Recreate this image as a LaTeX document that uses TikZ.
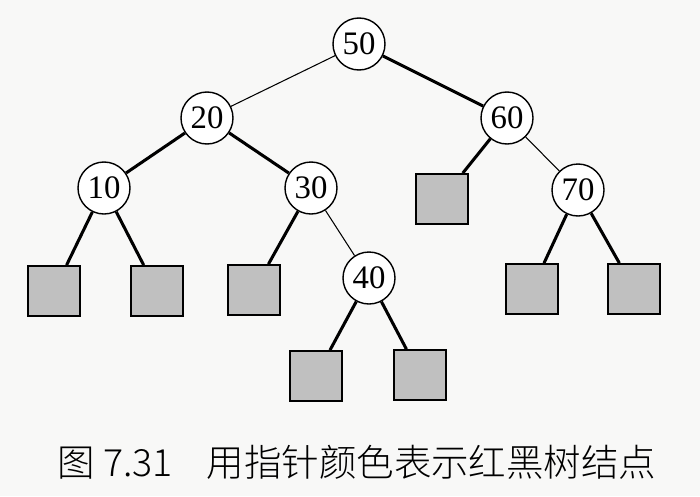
\documentclass[tikz,border=0pt]{standalone}
\usepackage{fontspec}
\setmainfont{Liberation Serif}
\newfontfamily\cjk{Noto Sans CJK SC Light}
\usetikzlibrary{positioning}
\usepackage{xcolor}
\definecolor{leafGray}{RGB}{192,192,192}
\definecolor{paperBg}{RGB}{248,248,247}

\begin{document}
\begin{tikzpicture}[
    x=0.03cm, y=-0.03cm,
    keynode/.style={circle, draw, line width=1.2pt, fill=white, minimum size=1.56cm, inner sep=0pt, font=\fontsize{28}{32}\selectfont},
    nilnode/.style={rectangle, draw, line width=1.5pt, fill=leafGray, minimum width=1.56cm, minimum height=1.5cm},
    blackptr/.style={line width=2.6pt},
    redptr/.style={line width=0.9pt}
]
\fill[paperBg] (0,0) rectangle (700,496);
\useasboundingbox (0,0) rectangle (700,496);

\node[keynode] (n50) at (359,44) {50};
\node[keynode] (n20) at (207,118) {20};
\node[keynode] (n60) at (507,118) {60};
\node[keynode] (n10) at (104,188) {10};
\node[keynode] (n30) at (311,188) {30};
\node[keynode] (n70) at (578,190) {70};
\node[keynode] (n40) at (369,278) {40};

\node[nilnode] (l10a) at (54,291) {};
\node[nilnode] (l10b) at (157,291) {};
\node[nilnode] (l30a) at (254,290) {};
\node[nilnode] (l60a) at (442,199) {};
\node[nilnode] (l40a) at (316,376) {};
\node[nilnode] (l40b) at (420,375) {};
\node[nilnode] (l70a) at (532,289) {};
\node[nilnode] (l70b) at (634,289) {};

\draw[redptr] (n50) -- (n20);
\draw[blackptr] (n50) -- (n60);
\draw[blackptr] (n20) -- (n10);
\draw[blackptr] (n20) -- (n30);
\draw[blackptr] (n60) -- (l60a);
\draw[redptr] (n60) -- (n70);
\draw[blackptr] (n10) -- (l10a);
\draw[blackptr] (n10) -- (l10b);
\draw[blackptr] (n30) -- (l30a);
\draw[redptr] (n30) -- (n40);
\draw[blackptr] (n40) -- (l40a);
\draw[blackptr] (n40) -- (l40b);
\draw[blackptr] (n70) -- (l70a);
\draw[blackptr] (n70) -- (l70b);

\node[font=\cjk\fontsize{32}{36}\selectfont] (caption) at (357,462) {图 7.31\hspace{0.9em}用指针颜色表示红黑树结点};
\end{tikzpicture}
\end{document}
